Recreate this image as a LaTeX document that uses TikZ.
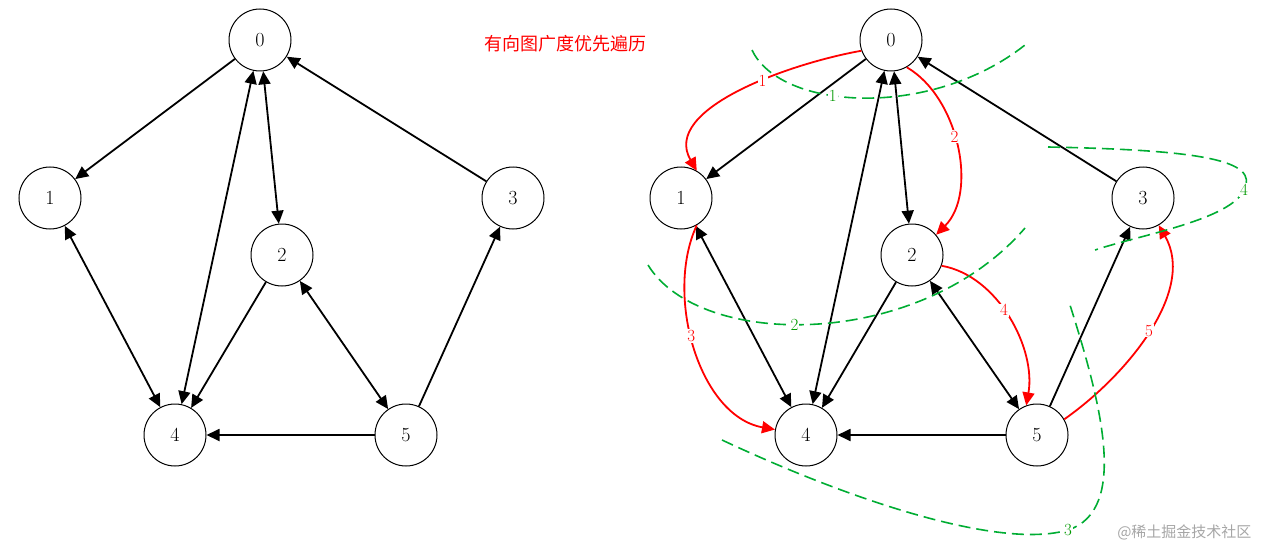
\documentclass[tikz,border=0pt]{standalone}
\usepackage{fontspec}
\newfontfamily\cjk{Noto Sans CJK SC}
\usetikzlibrary{arrows.meta}
\begin{document}
\begin{tikzpicture}[x=1pt,y=-1pt,
  vert/.style={circle,draw,line width=1pt,minimum size=62pt,inner sep=0pt,font=\fontsize{20}{20}\selectfont},
  arr/.style={-{Triangle[length=13pt,width=12pt]},line width=1.8pt},
  darr/.style={{Triangle[length=13pt,width=12pt]}-{Triangle[length=13pt,width=12pt]},line width=1.8pt},
  rarr/.style={-{Triangle[length=13pt,width=12pt]},line width=1.8pt,red},
  rlab/.style={fill=white,inner sep=1pt,text=red,font=\fontsize{17}{17}\selectfont},
  gdash/.style={dash pattern=on 12pt off 6pt,line width=1.6pt,green!60!black!80!cyan},
  glab/.style={fill=white,inner sep=1pt,text=green!60!black,font=\fontsize{17}{17}\selectfont}]
\useasboundingbox (0,0) rectangle (1271,559);
% left graph
\node[vert] (a0) at (260,40) {0};
\node[vert] (a1) at (50,198) {1};
\node[vert] (a2) at (282,255) {2};
\node[vert] (a3) at (513,198) {3};
\node[vert] (a4) at (175,435) {4};
\node[vert] (a5) at (406,435) {5};
\draw[arr] (a0) -- (a1);
\draw[darr] (a0) -- (a4);
\draw[darr] (a0) -- (a2);
\draw[arr] (a3) -- (a0);
\draw[darr] (a1) -- (a4);
\draw[arr] (a2) -- (a4);
\draw[darr] (a2) -- (a5);
\draw[arr] (a5) -- (a4);
\draw[arr] (a5) -- (a3);
\node[text=red,font=\cjk\fontsize{18}{18}\selectfont] (title) at (565,44) {有向图广度优先遍历};
% right graph
\node[vert] (b0) at (891,40) {0};
\node[vert] (b1) at (681,198) {1};
\node[vert] (b2) at (912,255) {2};
\node[vert] (b3) at (1143,198) {3};
\node[vert] (b4) at (806,435) {4};
\node[vert] (b5) at (1037,435) {5};
\draw[arr] (b0) -- (b1);
\draw[darr] (b0) -- (b4);
\draw[darr] (b0) -- (b2);
\draw[arr] (b3) -- (b0);
\draw[darr] (b1) -- (b4);
\draw[arr] (b2) -- (b4);
\draw[darr] (b2) -- (b5);
\draw[arr] (b5) -- (b4);
\draw[arr] (b5) -- (b3);
% red traversal
\draw[rarr] (b0.200) to[out=190,in=120,looseness=0.9] node[rlab,pos=0.4]{1} (b1.60);
\draw[rarr] (b0.-60) to[out=-30,in=45,looseness=0.9] node[rlab,pos=0.45]{2} (b2.40);
\draw[rarr] (b1.-60) to[out=-115,in=170,looseness=0.9] node[rlab,pos=0.45]{3} (b4.170);
\draw[rarr] (b2.-20) to[out=-10,in=80,looseness=0.9] node[rlab,pos=0.45]{4} (b5.110);
\draw[rarr] (b5.30) to[out=35,in=-60,looseness=0.9] node[rlab,pos=0.5]{5} (b3.-60);
% green dashed
\coordinate (g1s) at (752,50); \coordinate (g1e) at (1025,45);
\draw[gdash] (g1s) .. controls (780,110) and (930,120) .. node[glab,pos=0.4]{1} (g1e);
\coordinate (g2s) at (648,265); \coordinate (g2e) at (1025,228);
\draw[gdash] (g2s) .. controls (700,350) and (920,350) .. node[glab,pos=0.45]{2} (g2e);
\coordinate (g3s) at (722,440); \coordinate (g3e) at (1070,305);
\draw[gdash] (g3s) .. controls (850,500) and (1000,550) .. (1068,530) node[glab]{3} .. controls (1130,510) and (1100,400) .. (g3e);
\coordinate (g4s) at (1048,147); \coordinate (g4e) at (1095,250);
\draw[gdash] (g4s) .. controls (1200,150) and (1260,160) .. (1244,190) node[glab]{4} .. controls (1230,220) and (1140,235) .. (g4e);
\node[text=gray!70,font=\cjk\fontsize{15}{15}\selectfont,anchor=east] (wm) at (1255,532) {@稀土掘金技术社区};
\end{tikzpicture}
\end{document}
